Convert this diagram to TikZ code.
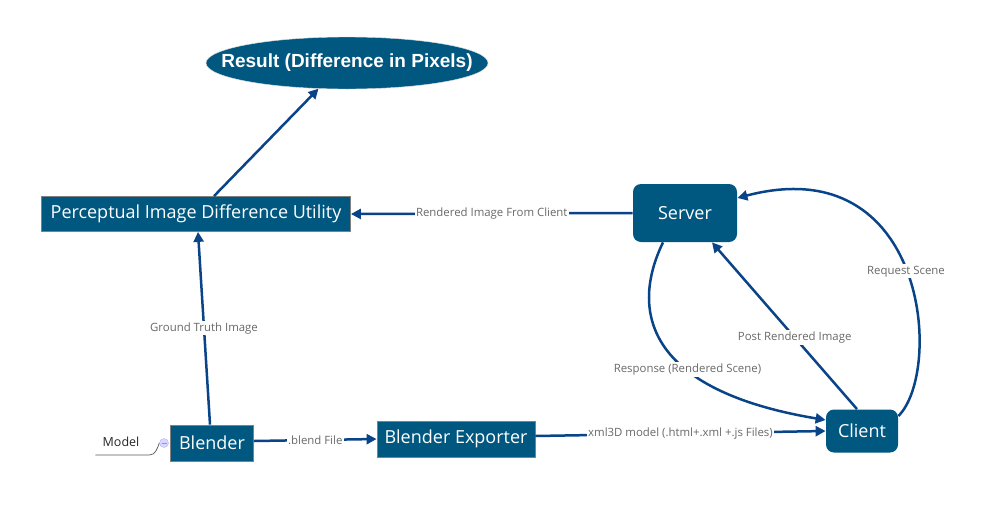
\documentclass[tikz,border=0pt]{standalone}
\usepackage{fontspec}
\setmainfont{Open Sans}
\newfontfamily\resultfont{Liberation Sans}
\usetikzlibrary{arrows.meta}
\usetikzlibrary{shapes.geometric}
\definecolor{boxblue}{RGB}{0,87,128}
\definecolor{linkblue}{RGB}{10,68,136}
\definecolor{labelgray}{RGB}{105,105,105}

\begin{document}
\begin{tikzpicture}[x=1pt, y=1pt,
    box/.style={fill=boxblue, draw=gray, line width=0.8pt, text=white, inner sep=0pt,
      font=\fontsize{18}{20}\selectfont},
    roundbox/.style={box, draw=none, rounded corners=8pt},
    link/.style={draw=linkblue, line width=2.5pt, -{Triangle[length=10pt, width=10pt]}},
    lbl/.style={fill=white, text=labelgray, inner sep=1.5pt, font=\fontsize{11.4}{13}\selectfont}]
      \useasboundingbox[fill=white] (0,0) rectangle (1000,-517);
      % nodes
      \node[ellipse, fill=boxblue, draw=white!75!gray, text=white, inner xsep=-26pt, inner ysep=0pt,
        minimum width=282pt, minimum height=52pt,
        font=\resultfont\bfseries\fontsize{19}{21}\selectfont] (result) at (347,-63) {Result (Difference in Pixels)};
      \node[box, minimum width=309pt, minimum height=35pt] (pidu) at (196,-214) {Perceptual Image Difference Utility};
      \node[roundbox, minimum width=104pt, minimum height=58pt] (server) at (685,-213) {Server};
      \node[roundbox, minimum width=72pt, minimum height=43pt] (client) at (862,-431) {Client};
      \node[box, minimum width=83pt, minimum height=36pt] (blender) at (212,-443) {Blender};
      \node[box, minimum width=158pt, minimum height=36pt] (exporter) at (456,-439) {Blender Exporter};
      \node[text=black!85, inner sep=1pt, font=\fontsize{12.5}{14}\selectfont] (model) at (121,-442) {Model};
      \node[circle, fill=blue!15, draw=blue!30, minimum size=9pt, inner sep=0pt,
        path picture={\draw[blue!45, line width=0.7pt] ([xshift=2pt]path picture bounding box.west) -- ([xshift=-2pt]path picture bounding box.east);}] (toggle) at (164,-443) {};
      \draw[gray!70!black, line width=0.7pt] (toggle.west) to[out=-110, in=0] ++(-10,-12) -- ++(-54,0);
      % connectors
      \draw[link] ([xshift=18pt]pidu.north) -- (result.222);
      \draw[link] (server.west) -- node[lbl] {Rendered Image From Client} (pidu.east);
      \draw[link] ([xshift=-2pt]blender.north) -- node[lbl] {Ground Truth Image} ([xshift=2pt]pidu.south);
      \draw[link] ([yshift=2pt]blender.east) -- node[lbl] {.blend File} (exporter.west);
      \draw[link] ([yshift=3pt]exporter.east) -- node[lbl] {xml3D model (.html+.xml +.js Files)} (client.west);
      \draw[link] ([xshift=-22pt]server.south) .. controls +(-33,-68) and +(-180,30) ..
        node[lbl, pos=0.63] {Response (Rendered Scene)} ([yshift=11pt]client.west);
      \draw[link] ([xshift=-5pt]client.north) -- node[lbl, pos=0.43] {Post Rendered Image} ([xshift=27pt]server.south);
      \draw[link] ([yshift=15pt]client.east) .. controls +(45,45) and +(190,50) ..
        node[lbl, pos=0.5] {Request Scene} ([yshift=15pt]server.east);
\end{tikzpicture}
\end{document}
